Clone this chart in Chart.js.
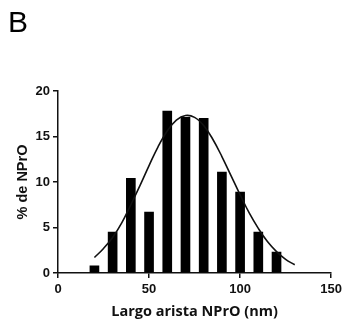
<!DOCTYPE html>
<html>
<head>
<meta charset="utf-8">
<script src="https://cdn.jsdelivr.net/npm/chart.js@4"></script>
<style>
  html, body { margin: 0; padding: 0; background: #fff; }
  #wrap { position: relative; width: 346px; height: 322px; }
  #panel { position: absolute; left: 8px; top: 7px; font: 30px/1 "Liberation Sans", Arial, sans-serif; color: #000; }
  canvas { position: absolute; left: 0; top: 0; }
</style>
</head>
<body>
<div id="wrap">
  <canvas id="c" width="346" height="322"></canvas>
  <div id="panel">B</div>
</div>
<script>
// Histogram bins (nm) and percentages
const binCenters = [20, 30, 40, 50, 60, 70, 80, 90, 100, 110, 120];
const percentages = [0.8, 4.5, 10.4, 6.7, 17.8, 17.1, 17.0, 11.1, 8.9, 4.5, 2.3];
// Fitted curve points
const curveX = [20, 25, 30, 35, 40, 45, 50, 55, 60, 65, 70, 75, 80, 85, 90, 95, 100, 105, 110, 115, 120, 125, 130];
const curveY = [1.7, 2.7, 3.9, 5.5, 7.5, 9.6, 11.8, 13.9, 15.6, 16.8, 17.3, 17.1, 16.2, 14.7, 12.8, 10.7, 8.6, 6.6, 4.9, 3.45, 2.35, 1.5, 0.9];
const xTicks = [0, 50, 100, 150];
const yTicks = [0, 5, 10, 15, 20];

const barData = binCenters.map((x, i) => ({ x: x, y: percentages[i] }));
const lineData = curveX.map((x, i) => ({ x: x, y: curveY[i] }));

const tickFont = { family: "'Liberation Sans', Arial, sans-serif", size: 13, weight: 'bold' };

new Chart(document.getElementById('c'), {
  type: 'bar',
  data: {
    datasets: [
      {
        type: 'line',
        data: lineData,
        borderColor: '#111',
        borderWidth: 1.6,
        pointRadius: 0,
        tension: 0.4,
        fill: false,
        order: 0
      },
      {
        type: 'bar',
        data: barData,
        backgroundColor: '#000',
        borderWidth: 0,
        barThickness: 9,
        order: 1
      }
    ]
  },
  options: {
    responsive: false,
    animation: false,
    devicePixelRatio: 1,
    layout: { padding: { left: 10, right: 13, top: 91, bottom: 0 } },
    plugins: { legend: { display: false }, tooltip: { enabled: false } },
    scales: {
      x: {
        type: 'linear',
        offset: false,
        min: 0,
        max: 150,
        afterBuildTicks: (s) => { s.ticks = xTicks.map(v => ({ value: v })); },
        afterFit: (s) => { s.height = 49; },
        ticks: { font: tickFont, color: '#111', padding: 4 },
        grid: { offset: false, drawOnChartArea: false, drawTicks: true, tickLength: 5, color: '#111', lineWidth: 1.5 },
        border: { color: '#111', width: 1.5 },
        title: {
          display: true,
          text: 'Largo arista NPrO (nm)',
          color: '#111',
          font: { family: "'Open Sans', sans-serif", size: 14.5, weight: 'bold' },
          padding: { top: 4, bottom: 1 }
        }
      },
      y: {
        min: 0,
        max: 20,
        afterBuildTicks: (s) => { s.ticks = yTicks.map(v => ({ value: v })); },
        afterFit: (s) => { s.width = 48; },
        ticks: { font: tickFont, color: '#111', padding: 3 },
        grid: { drawOnChartArea: false, drawTicks: true, tickLength: 5, color: '#111', lineWidth: 1.5 },
        border: { color: '#111', width: 1.5 },
        title: {
          display: true,
          text: '% de NPrO',
          color: '#111',
          font: { family: "'Liberation Sans', Arial, sans-serif", size: 14.5, weight: 'bold' },
          padding: { top: 4, bottom: 4 }
        }
      }
    }
  }
});
</script>
</body>
</html>
